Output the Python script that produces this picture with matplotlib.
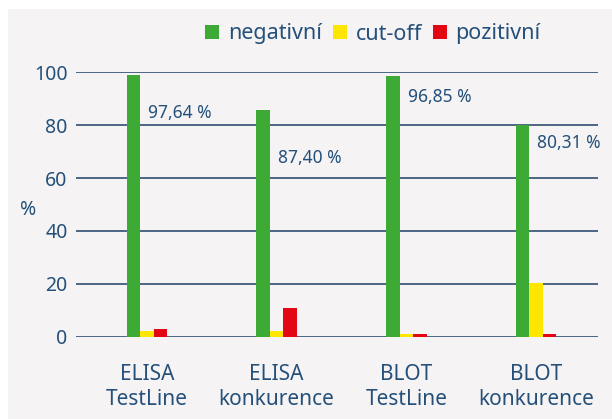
import matplotlib.pyplot as plt
import numpy as np
from matplotlib.patches import Rectangle

# categories (two-line labels under each group)
categories = ["ELISA\nTestLine", "ELISA\nkonkurence", "BLOT\nTestLine", "BLOT\nkonkurence"]
series_names = ["negativní", "cut-off", "pozitivní"]

# percent values
negativni = [98.9, 85.7, 98.6, 80.0]
cut_off = [2.0, 2.0, 1.1, 20.3]
pozitivni = [3.0, 11.0, 1.1, 1.1]

# printed labels next to the green bars
value_labels = ["97,64 %", "87,40 %", "96,85 %", "80,31 %"]
label_heights = [84.7, 67.7, 90.7, 73.2]

yticks = [0, 20, 40, 60, 80, 100]

text_color = "#24507a"
grid_color = "#1d3f66"
colors = ["#3daa35", "#ffe600", "#e30613"]
bg = "#f5f3f4"

plt.rcParams["font.family"] = ["Noto Sans", "DejaVu Sans"]

fig = plt.figure(figsize=(6.12, 4.19), dpi=100)
fig.patch.set_facecolor("white")
# grey panel behind the chart
fig.patches.append(Rectangle((8 / 612, 0), 1, 1 - 9.5 / 419, transform=fig.transFigure,
                             facecolor=bg, edgecolor="none", zorder=-10))

ax = fig.add_axes([76 / 612, 1 - 336.7 / 419, (598 - 76) / 612, (336.7 - 72.3) / 419])
ax.set_facecolor(bg)
ax.patch.set_alpha(0)

x = np.arange(len(categories))
w = 0.104
bars = []
for k, vals in enumerate([negativni, cut_off, pozitivni]):
    b = ax.bar(x + (k - 1) * w, vals, width=w, color=colors[k], label=series_names[k],
               zorder=3, clip_on=False)
    bars.append(b)

for i, txt in enumerate(value_labels):
    ax.text(x[i] + 0.01, label_heights[i], txt, ha="left", va="center",
            fontsize=12.5, color=text_color, zorder=4)

ax.set_xlim(-0.547, 3.477)
ax.set_ylim(0, 100)
ax.set_yticks(yticks)
ax.yaxis.grid(True, color=grid_color, linewidth=1.1, zorder=1)
ax.set_axisbelow(True)
for s in ax.spines.values():
    s.set_visible(False)

ax.set_xticks(x)
ax.set_xticklabels(categories, fontsize=15, color=text_color, linespacing=1.25)
ax.tick_params(axis="x", length=0, pad=20)
ax.tick_params(axis="y", length=0, pad=6, labelsize=14, labelcolor=text_color)

fig.text(28 / 612, 1 - 210 / 419, "%", ha="center", va="center", fontsize=14, color=text_color)

fig.legend(handles=bars, loc="center", bbox_to_anchor=(373 / 612, 1 - 34 / 419), ncol=3,
           frameon=False, fontsize=15.5, labelcolor=text_color, handlelength=0.64,
           handleheight=0.64, handletextpad=0.42, columnspacing=0.5, borderpad=0)

fig.savefig("out.png", dpi=100, facecolor=fig.get_facecolor())
